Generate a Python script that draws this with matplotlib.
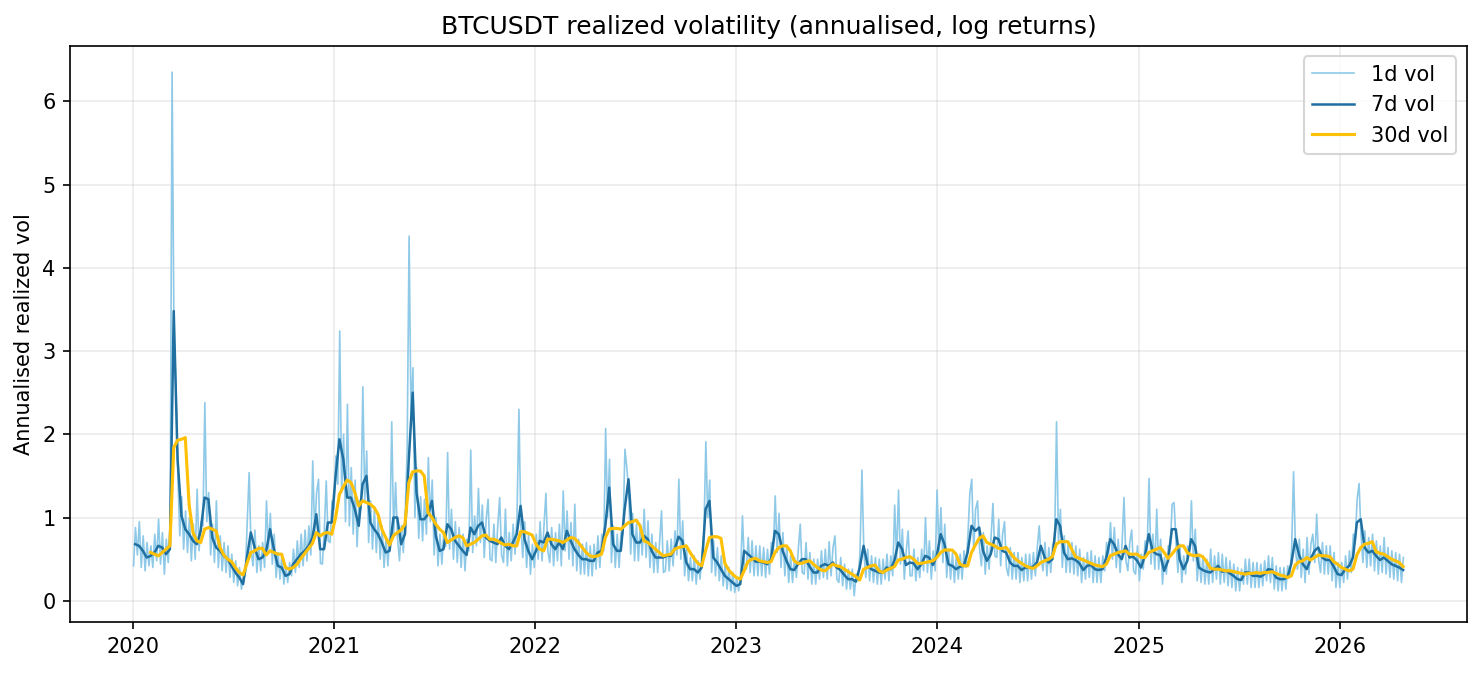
import matplotlib
matplotlib.use('Agg')
import matplotlib.pyplot as plt
import pandas as pd

# weekly samples of the 7-day realised vol (from 2020-01-05)
vol_7d = [
    0.68, 0.66, 0.60, 0.52, 0.54, 0.58, 0.66, 0.64, 0.56, 0.62,
    3.48, 1.70, 1.02, 0.86, 0.80, 0.72, 0.68, 0.84, 1.24, 1.22,
    0.76, 0.64, 0.60, 0.54, 0.50, 0.42, 0.34, 0.28, 0.20, 0.52,
    0.82, 0.64, 0.50, 0.52, 0.60, 0.86, 0.62, 0.42, 0.40, 0.30,
    0.32, 0.44, 0.50, 0.56, 0.60, 0.66, 0.76, 1.04, 0.62, 0.62,
    0.94, 0.94, 1.50, 1.94, 1.70, 1.24, 1.24,
    1.10, 0.90, 1.40, 1.50, 0.94, 0.86, 0.80, 0.70, 0.58, 0.60,
    1.00, 1.00, 0.68, 0.80, 1.70, 2.50, 1.30, 0.98, 0.98, 1.04,
    1.20, 0.78, 0.60, 0.62, 0.92, 0.86, 0.72, 0.66, 0.60, 0.55,
    0.88, 0.80, 0.90, 0.94, 0.76, 0.72, 0.70, 0.68, 0.76, 0.66,
    0.62, 0.70, 0.80, 1.14, 0.74, 0.60, 0.50, 0.60, 0.72, 0.70,
    0.82, 0.68, 0.62, 0.70, 0.62, 0.84, 0.72, 0.62, 0.55, 0.50,
    0.50, 0.48, 0.48, 0.58, 0.60, 0.90, 1.36, 0.68, 0.60, 0.60,
    1.10, 1.46, 0.80, 0.70, 0.70, 0.78, 0.74, 0.60, 0.52, 0.52,
    0.52, 0.54, 0.54, 0.62, 0.77, 0.72, 0.46, 0.38, 0.38, 0.34,
    0.40, 1.10, 1.20, 0.52, 0.46, 0.38, 0.30, 0.26, 0.22, 0.18,
    0.20, 0.60, 0.56, 0.52, 0.47, 0.47, 0.46, 0.44, 0.50, 0.84,
    0.80, 0.60, 0.48, 0.38, 0.37, 0.44, 0.50, 0.50, 0.41,
    0.34, 0.34, 0.42, 0.44, 0.42, 0.46, 0.40, 0.37, 0.31, 0.26,
    0.26, 0.23, 0.40, 0.66, 0.44, 0.38, 0.36, 0.34, 0.34, 0.40,
    0.38, 0.48, 0.70, 0.62, 0.43, 0.46, 0.45, 0.38, 0.44, 0.54,
    0.52, 0.43, 0.54, 0.80, 0.68, 0.44, 0.42, 0.38, 0.41, 0.42,
    0.58, 0.90, 0.84, 0.88, 0.60, 0.48, 0.56, 0.76, 0.74, 0.60,
    0.58, 0.46, 0.42, 0.42, 0.37, 0.40, 0.40, 0.41,
    0.46, 0.66, 0.52, 0.46, 0.50, 0.98, 0.90, 0.58, 0.50, 0.51,
    0.49, 0.45, 0.37, 0.42, 0.43, 0.38, 0.37, 0.38, 0.52, 0.74,
    0.68, 0.56, 0.50, 0.66, 0.52, 0.53, 0.48, 0.40, 0.54, 0.80,
    0.60, 0.56, 0.55, 0.36, 0.48, 0.86, 0.86, 0.50, 0.38, 0.48,
    0.74, 0.66, 0.40, 0.37, 0.35, 0.34, 0.38, 0.42, 0.35, 0.36,
    0.33, 0.30, 0.26, 0.25, 0.34, 0.34, 0.30, 0.30, 0.29,
    0.32, 0.38, 0.37, 0.28, 0.26, 0.26, 0.28, 0.45, 0.74, 0.55,
    0.44, 0.38, 0.50, 0.60, 0.64, 0.52, 0.49, 0.49, 0.41, 0.32,
    0.31, 0.38, 0.42, 0.52, 0.94, 0.98, 0.64, 0.58, 0.60, 0.54,
    0.49, 0.52, 0.48, 0.44, 0.42, 0.40, 0.37,
]

# weekly samples of the 30-day realised vol (from 2020-02-02)
vol_30d = [
    0.58, 0.56, 0.54, 0.58, 0.62, 0.66, 1.84, 1.93, 1.94, 1.96,
    1.15, 0.82, 0.72, 0.70, 0.86, 0.88, 0.86, 0.84, 0.64, 0.55,
    0.50, 0.47, 0.40, 0.34, 0.31, 0.45, 0.58, 0.60, 0.63, 0.63,
    0.55, 0.60, 0.58, 0.56, 0.56, 0.40, 0.38, 0.40, 0.44, 0.51,
    0.57, 0.63, 0.69, 0.82, 0.78, 0.81, 0.82, 0.80, 1.00, 1.28,
    1.37, 1.45, 1.42, 1.30, 1.14, 1.20, 1.18, 1.16, 1.12, 1.04,
    0.86, 0.76, 0.67, 0.78, 0.82, 0.85, 0.92, 1.42, 1.55, 1.56,
    1.56, 1.50, 1.06, 1.00, 0.92, 0.86, 0.82, 0.70, 0.73, 0.76,
    0.78, 0.76, 0.66, 0.68, 0.70, 0.74, 0.78, 0.79, 0.74, 0.74,
    0.72, 0.69, 0.67, 0.68, 0.66, 0.66, 0.83, 0.83, 0.81, 0.79,
    0.68, 0.62, 0.60, 0.74, 0.74, 0.73, 0.72, 0.70, 0.73, 0.76,
    0.75, 0.70, 0.64, 0.58, 0.54, 0.53, 0.54, 0.56, 0.76, 0.86,
    0.87, 0.87, 0.86, 0.90, 0.94, 0.95, 0.97, 0.90, 0.72, 0.70,
    0.66, 0.62, 0.58, 0.54, 0.55, 0.56, 0.62, 0.64, 0.65, 0.66,
    0.58, 0.51, 0.45, 0.42, 0.60, 0.76, 0.77, 0.77, 0.75, 0.45,
    0.37, 0.32, 0.28, 0.26, 0.36, 0.47, 0.50, 0.51, 0.48, 0.47,
    0.46, 0.47, 0.58, 0.64, 0.66, 0.66, 0.60, 0.48, 0.45, 0.45,
    0.47, 0.48, 0.44, 0.40, 0.37, 0.36, 0.40, 0.44, 0.42, 0.41,
    0.38, 0.35, 0.32, 0.29, 0.25, 0.38, 0.40, 0.42, 0.43, 0.36,
    0.34, 0.37, 0.39, 0.41, 0.49, 0.50, 0.52, 0.53, 0.50, 0.45,
    0.45, 0.46, 0.47, 0.48, 0.52, 0.58, 0.61, 0.61, 0.61, 0.56,
    0.44, 0.42, 0.42, 0.58, 0.67, 0.75, 0.78, 0.70, 0.68, 0.66,
    0.63, 0.63, 0.64, 0.58, 0.52, 0.48, 0.45, 0.42, 0.40, 0.39,
    0.42, 0.46, 0.48, 0.50, 0.53, 0.68, 0.71, 0.71, 0.71, 0.62,
    0.53, 0.51, 0.49, 0.47, 0.45, 0.43, 0.42, 0.41, 0.44, 0.54,
    0.56, 0.58, 0.59, 0.60, 0.56, 0.56, 0.56, 0.52, 0.52, 0.58,
    0.60, 0.62, 0.64, 0.58, 0.51, 0.56, 0.62, 0.66, 0.66, 0.58,
    0.55, 0.54, 0.55, 0.53, 0.47, 0.39, 0.38, 0.38, 0.37, 0.36,
    0.36, 0.35, 0.34, 0.33, 0.32, 0.33, 0.33, 0.34, 0.33, 0.34,
    0.34, 0.35, 0.33, 0.31, 0.30, 0.28, 0.30, 0.43, 0.47, 0.48,
    0.52, 0.49, 0.52, 0.55, 0.54, 0.54, 0.53, 0.47, 0.44, 0.40,
    0.38, 0.36, 0.38, 0.55, 0.64, 0.68, 0.69, 0.71, 0.59, 0.57,
    0.56, 0.53, 0.50, 0.48, 0.46, 0.41,
]

# 1-day vol, two samples per week (every 3.5 days from 2020-01-02)
vol_1d = [
    0.42, 0.88, 0.55, 0.95, 0.40, 0.78, 0.36, 0.70, 0.42, 0.66, 0.40, 0.80, 0.48, 0.98, 0.44, 0.82, 0.32, 0.74, 0.46, 0.90,
    6.35, 3.20, 2.60, 1.50, 0.78, 1.25, 0.62, 1.08, 0.58, 1.00, 0.48, 0.92, 0.50, 1.34, 0.60, 0.95, 0.90, 2.38, 0.95, 1.30,
    0.55, 0.92, 0.46, 1.20, 0.40, 0.78, 0.36, 0.70, 0.34, 0.66, 0.28, 0.56, 0.22, 0.48, 0.18, 0.40, 0.14, 0.30, 0.30, 0.95,
    1.54, 0.62, 0.42, 0.85, 0.34, 0.66, 0.36, 0.70, 0.40, 1.20, 0.62, 1.05, 0.44, 0.80, 0.28, 0.58, 0.26, 0.56, 0.20, 0.42,
    0.22, 0.46, 0.30, 0.62, 0.34, 0.72, 0.40, 0.80, 0.42, 0.85, 0.48, 0.90, 0.55, 1.68, 0.80, 1.30, 1.46, 0.45, 0.44, 0.85,
    1.44, 0.72, 0.70, 1.20, 1.10, 1.74, 1.40, 3.24, 1.30, 2.00, 0.95, 2.36, 0.90, 1.60, 0.80, 1.45, 0.65, 1.20, 1.10, 2.57,
    1.20, 1.80, 0.70, 1.20, 0.62, 1.10, 0.58, 1.02, 0.50, 0.90, 0.40, 0.76, 0.42, 0.80, 2.15, 0.80, 1.42, 0.75, 0.48, 0.90,
    0.58, 1.05, 1.82, 4.38, 2.20, 2.80, 1.00, 1.60, 0.75, 1.25, 0.72, 1.22, 0.80, 1.72, 0.95, 1.45, 0.55, 1.00, 0.42, 0.80,
    0.44, 0.82, 0.65, 1.78, 0.62, 1.10, 0.50, 0.95, 0.46, 0.88, 0.40, 0.80, 0.36, 0.74, 0.60, 1.81, 0.58, 1.02, 0.66, 1.35,
    0.70, 1.15, 0.52, 0.98, 1.22, 0.50, 0.48, 0.92, 0.46, 0.90, 1.24, 0.55, 0.46, 1.10, 0.42, 0.82, 0.48, 0.92, 0.56, 1.02,
    2.30, 0.90, 0.52, 0.95, 0.40, 0.80, 0.32, 0.68, 0.40, 0.80, 0.50, 0.95, 0.48, 0.90, 1.29, 0.60, 0.46, 0.88, 0.42, 0.82,
    0.48, 0.92, 0.42, 1.32, 0.60, 1.08, 0.50, 0.94, 0.42, 1.16, 0.36, 0.74, 0.32, 0.68, 0.32, 0.70, 0.30, 0.66, 0.30, 0.68,
    0.38, 0.78, 0.40, 0.80, 0.60, 2.07, 1.00, 1.70, 0.46, 0.90, 0.40, 0.80, 0.40, 0.82, 0.80, 1.82, 1.60, 1.30, 0.56, 1.05,
    0.48, 0.92, 0.48, 0.92, 0.55, 1.10, 0.52, 0.96, 0.40, 0.80, 0.34, 0.70, 0.34, 0.72, 1.08, 0.34, 0.36, 0.72, 0.36, 0.74,
    0.42, 0.84, 0.55, 1.46, 0.50, 0.96, 0.30, 0.62, 0.24, 0.52, 0.24, 0.54, 0.20, 0.48, 0.26, 0.56, 0.80, 1.91, 1.00, 1.45,
    0.34, 0.72, 0.30, 0.64, 0.24, 0.54, 0.18, 0.44, 0.14, 0.40, 0.12, 0.34, 0.10, 0.28, 0.12, 0.30, 1.02, 0.45, 0.38, 0.76,
    0.34, 0.72, 0.30, 0.66, 0.30, 0.66, 0.30, 0.64, 0.28, 0.62, 0.32, 0.70, 0.60, 1.26, 0.58, 1.05, 0.40, 0.82, 0.30, 0.66,
    0.22, 0.54, 0.22, 0.52, 0.28, 0.62, 0.92, 0.34, 0.32, 0.70, 0.26, 0.58, 0.20, 0.50, 0.20, 0.50, 0.26, 0.60, 0.28, 0.62,
    0.26, 0.71, 0.30, 0.64, 0.78, 0.26, 0.22, 0.52, 0.18, 0.44, 0.14, 0.38, 0.14, 0.38, 0.06, 0.32, 0.24, 0.58, 1.57, 0.60,
    0.28, 0.62, 0.24, 0.54, 0.22, 0.52, 0.20, 0.50, 0.20, 0.50, 0.26, 0.56, 0.24, 0.54, 0.30, 1.15, 0.50, 1.33, 0.44, 0.86,
    0.26, 0.60, 0.84, 0.30, 0.30, 0.62, 0.24, 0.52, 0.28, 0.62, 0.36, 1.00, 0.34, 0.72, 0.26, 0.60, 0.36, 1.33, 0.60, 1.12,
    0.46, 0.92, 0.28, 0.62, 0.26, 0.58, 0.22, 0.54, 0.26, 0.56, 0.26, 0.60, 0.40, 0.78, 1.29, 1.46, 0.60, 1.10, 1.20, 0.64,
    0.42, 0.82, 0.32, 0.66, 0.38, 0.76, 1.17, 0.54, 0.52, 0.98, 0.42, 0.80, 0.95, 0.40, 0.30, 0.64, 0.26, 0.58, 0.26, 0.58,
    0.22, 0.52, 0.24, 0.56, 0.24, 0.56, 0.26, 0.58, 0.30, 0.64, 0.90, 0.50, 0.36, 0.70, 0.30, 0.64, 0.34, 0.68, 0.70, 2.15,
    0.70, 1.10, 0.40, 0.78, 0.34, 0.68, 0.34, 0.70, 0.32, 0.66, 0.30, 0.62, 0.22, 0.52, 0.26, 0.58, 0.28, 0.60, 0.22, 0.54,
    0.22, 0.52, 0.22, 0.54, 0.36, 0.70, 0.56, 0.94, 0.50, 0.88, 0.40, 0.74, 0.34, 0.68, 1.24, 0.48, 0.36, 0.70, 0.85, 0.36,
    0.32, 0.66, 0.24, 0.56, 0.38, 0.72, 0.60, 1.47, 0.44, 0.80, 0.38, 1.10, 0.38, 0.74, 0.20, 0.52, 0.32, 0.66, 0.65, 1.16,
    1.18, 0.70, 0.34, 0.68, 0.22, 0.54, 0.32, 0.66, 0.55, 1.20, 0.48, 0.86, 0.24, 0.56, 0.22, 0.54, 0.20, 0.50, 0.20, 0.62,
    0.22, 0.54, 0.26, 0.58, 0.20, 0.56, 0.22, 0.52, 0.18, 0.48, 0.16, 0.44, 0.12, 0.40, 0.12, 0.38, 0.20, 0.50, 0.20, 0.50,
    0.16, 0.46, 0.16, 0.46, 0.16, 0.44, 0.18, 0.48, 0.24, 0.54, 0.22, 0.52, 0.14, 0.42, 0.12, 0.40, 0.12, 0.40, 0.14, 0.42,
    0.28, 0.62, 1.55, 0.62, 0.38, 0.74, 0.28, 0.62, 0.22, 0.76, 0.32, 0.68, 0.80, 0.46, 1.04, 0.50, 0.34, 0.70, 0.32, 0.66,
    0.32, 0.66, 0.24, 0.58, 0.16, 0.46, 0.16, 0.46, 0.22, 0.54, 0.26, 0.60, 0.34, 0.80, 0.70, 1.22, 1.41, 0.80, 0.46, 0.84,
    0.40, 0.76, 0.42, 0.80, 0.36, 0.72, 0.32, 0.66, 0.34, 0.76, 0.32, 0.64, 0.28, 0.60, 0.26, 0.58, 0.24, 0.56, 0.22, 0.52,
]

dates_1d = pd.date_range('2020-01-02', periods=len(vol_1d), freq='84h')
dates_7d = pd.date_range('2020-01-05', periods=len(vol_7d), freq='7D')
dates_30d = pd.date_range('2020-02-02', periods=len(vol_30d), freq='7D')

fig, ax = plt.subplots(figsize=(9.873, 4.487), dpi=150)
fig.subplots_adjust(left=0.0473, right=0.9905, top=0.9316, bottom=0.0758)

ax.plot(dates_1d, vol_1d, color='#8ec9e8', lw=0.8, label='1d vol')
ax.plot(dates_7d, vol_7d, color='#1f6fa0', lw=1.2, label='7d vol')
ax.plot(dates_30d, vol_30d, color='#ffc107', lw=1.5, label='30d vol')

ax.set_title('BTCUSDT realized volatility (annualised, log returns)')
ax.set_ylabel('Annualised realized vol')
ax.grid(True, alpha=0.25)
ax.legend(loc='upper right')

fig.savefig('out.png', dpi=150)
